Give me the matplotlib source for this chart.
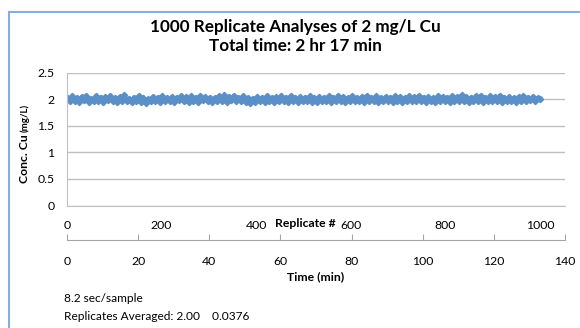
import numpy as np
import matplotlib
matplotlib.use('Agg')
import matplotlib.pyplot as plt
from matplotlib.lines import Line2D

plt.rcParams['font.family'] = ['Lato', 'DejaVu Sans']

# concentration readings (mg/L), every ~5 replicates
conc = [2.03, 1.97, 2.05, 1.96, 2.02, 1.94, 2.04, 1.98, 2.06, 1.95, 2.01, 1.97, 2.05, 1.96, 2.03, 1.94, 2.04, 1.99, 2.06, 1.96,
        2.02, 1.95, 2.04, 1.97, 2.07, 1.96, 2.01, 1.94, 2.03, 1.97, 2.05, 1.95, 2.02, 1.93, 2.00, 1.96, 2.04, 1.97, 2.03, 1.95,
        2.05, 1.97, 2.02, 1.96, 2.04, 1.94, 2.03, 1.98, 2.06, 1.96, 2.04, 1.95, 2.05, 1.97, 2.03, 1.95, 2.06, 1.98, 2.04, 1.96,
        2.03, 1.94, 2.02, 1.96, 2.05, 1.97, 2.07, 1.95, 2.04, 1.98, 2.06, 1.96, 2.03, 1.97, 2.05, 1.95, 2.02, 1.93, 2.01, 1.95,
        2.04, 1.96, 2.03, 1.95, 2.05, 1.97, 2.02, 1.94, 2.04, 1.96, 2.06, 1.97, 2.03, 1.95, 2.05, 1.96, 2.02, 1.95, 2.04, 1.97,
        2.03, 1.96, 2.05, 1.95, 2.02, 1.94, 2.04, 1.97, 2.03, 1.96, 2.05, 1.95, 2.03, 1.97, 2.06, 1.96, 2.04, 1.95, 2.02, 1.96,
        2.05, 1.97, 2.03, 1.96, 2.04, 1.95, 2.06, 1.97, 2.03, 1.96, 2.05, 1.94, 2.02, 1.96, 2.04, 1.97, 2.03, 1.95, 2.05, 1.96,
        2.04, 1.95, 2.02, 1.96, 2.05, 1.97, 2.04, 1.96, 2.06, 1.97, 2.03, 1.95, 2.04, 1.96, 2.02, 1.94, 2.05, 1.97, 2.04, 1.96,
        2.03, 1.95, 2.05, 1.97, 2.04, 1.96, 2.07, 1.97, 2.04, 1.95, 2.03, 1.96, 2.05, 1.97, 2.06, 1.95, 2.03, 1.96, 2.05, 1.97,
        2.04, 1.96, 2.06, 1.95, 2.03, 1.97, 2.04, 1.96, 2.02, 1.95, 2.04, 1.97, 2.05, 1.96, 2.03, 1.98, 2.04, 1.96, 2.02, 2.01]
replicate = np.linspace(1, 1000, len(conc))

rep_ticks = [0, 200, 400, 600, 800, 1000]
time_ticks = [0, 20, 40, 60, 80, 100, 120, 140]
y_ticks = [0, 0.5, 1, 1.5, 2, 2.5]

blue = '#5b8fc8'
grid = '#c0c0c0'

fig = plt.figure(figsize=(5.8, 3.28), dpi=100)
W, H = 580.0, 328.0

# main plot
ax = fig.add_axes([67 / W, 1 - 205.5 / H, (565 - 67) / W, (205.5 - 72.5) / H])
ax.plot(replicate, conc, color=blue, lw=3.2, marker='D', ms=3.2, mec=blue, mfc=blue)
ax.set_xlim(0, 1053)
ax.set_ylim(0, 2.5)
ax.set_yticks(y_ticks)
ax.set_yticklabels(['0', '0.5', '1', '1.5', '2', '2.5'])
ax.set_xticks(rep_ticks)
ax.tick_params(axis='x', length=0, pad=10.5, labelsize=8.8, colors='black')
ax.tick_params(axis='y', length=0, pad=9, labelsize=8.8)
ax.grid(axis='y', color=grid, lw=1)
ax.set_axisbelow(True)
for s in ['top', 'right']:
    ax.spines[s].set_visible(False)
for s in ['left', 'bottom']:
    ax.spines[s].set_color(grid)
ax.text(503, -0.34, 'Replicate #', ha='center', va='center', fontsize=8.8, fontweight='bold')

# time axis below
tax = fig.add_axes([67 / W, 1 - 240 / H, (565 - 67) / W, 0.001])
tax.set_xlim(0, 140)
tax.set_xticks(time_ticks)
tax.set_yticks([])
tax.patch.set_visible(False)
for s in ['top', 'right', 'left']:
    tax.spines[s].set_visible(False)
tax.spines['bottom'].set_color('#a6a6a6')
tax.tick_params(axis='x', direction='in', length=4, color='#a6a6a6', pad=11.5, labelsize=8.8)
tax.set_xlabel('Time (min)', fontsize=8.8, fontweight='bold', labelpad=3)

# titles and labels
fig.text(295 / W, 1 - 27 / H, '1000 Replicate Analyses of 2 mg/L Cu', ha='center', va='center',
         fontsize=12.3, fontweight='bold')
fig.text(295 / W, 1 - 46 / H, 'Total time: 2 hr 17 min', ha='center', va='center',
         fontsize=12.3, fontweight='bold')
fig.text(25 / W, 1 - 159 / H, 'Conc. Cu', rotation=90, ha='center', va='center',
         fontsize=8.8, fontweight='bold')
fig.text(25 / W, 1 - 118 / H, '(mg/L)', rotation=90, ha='center', va='center',
         fontsize=7, fontweight='bold')

fig.text(64 / W, 1 - 298 / H, '8.2 sec/sample', ha='left', va='center', fontsize=8.6)
fig.text(64 / W, 1 - 316 / H, 'Replicates Averaged: 2.00    0.0376', ha='left', va='center', fontsize=8.6)

# chart frame
fig.add_artist(Line2D([9 / W, 9 / W], [0, 1 - 12 / H], color='#86aee0', lw=1.5))
fig.add_artist(Line2D([9 / W, 1], [1 - 12 / H, 1 - 12 / H], color='#86aee0', lw=1.5))

fig.savefig('out.png', dpi=100)
